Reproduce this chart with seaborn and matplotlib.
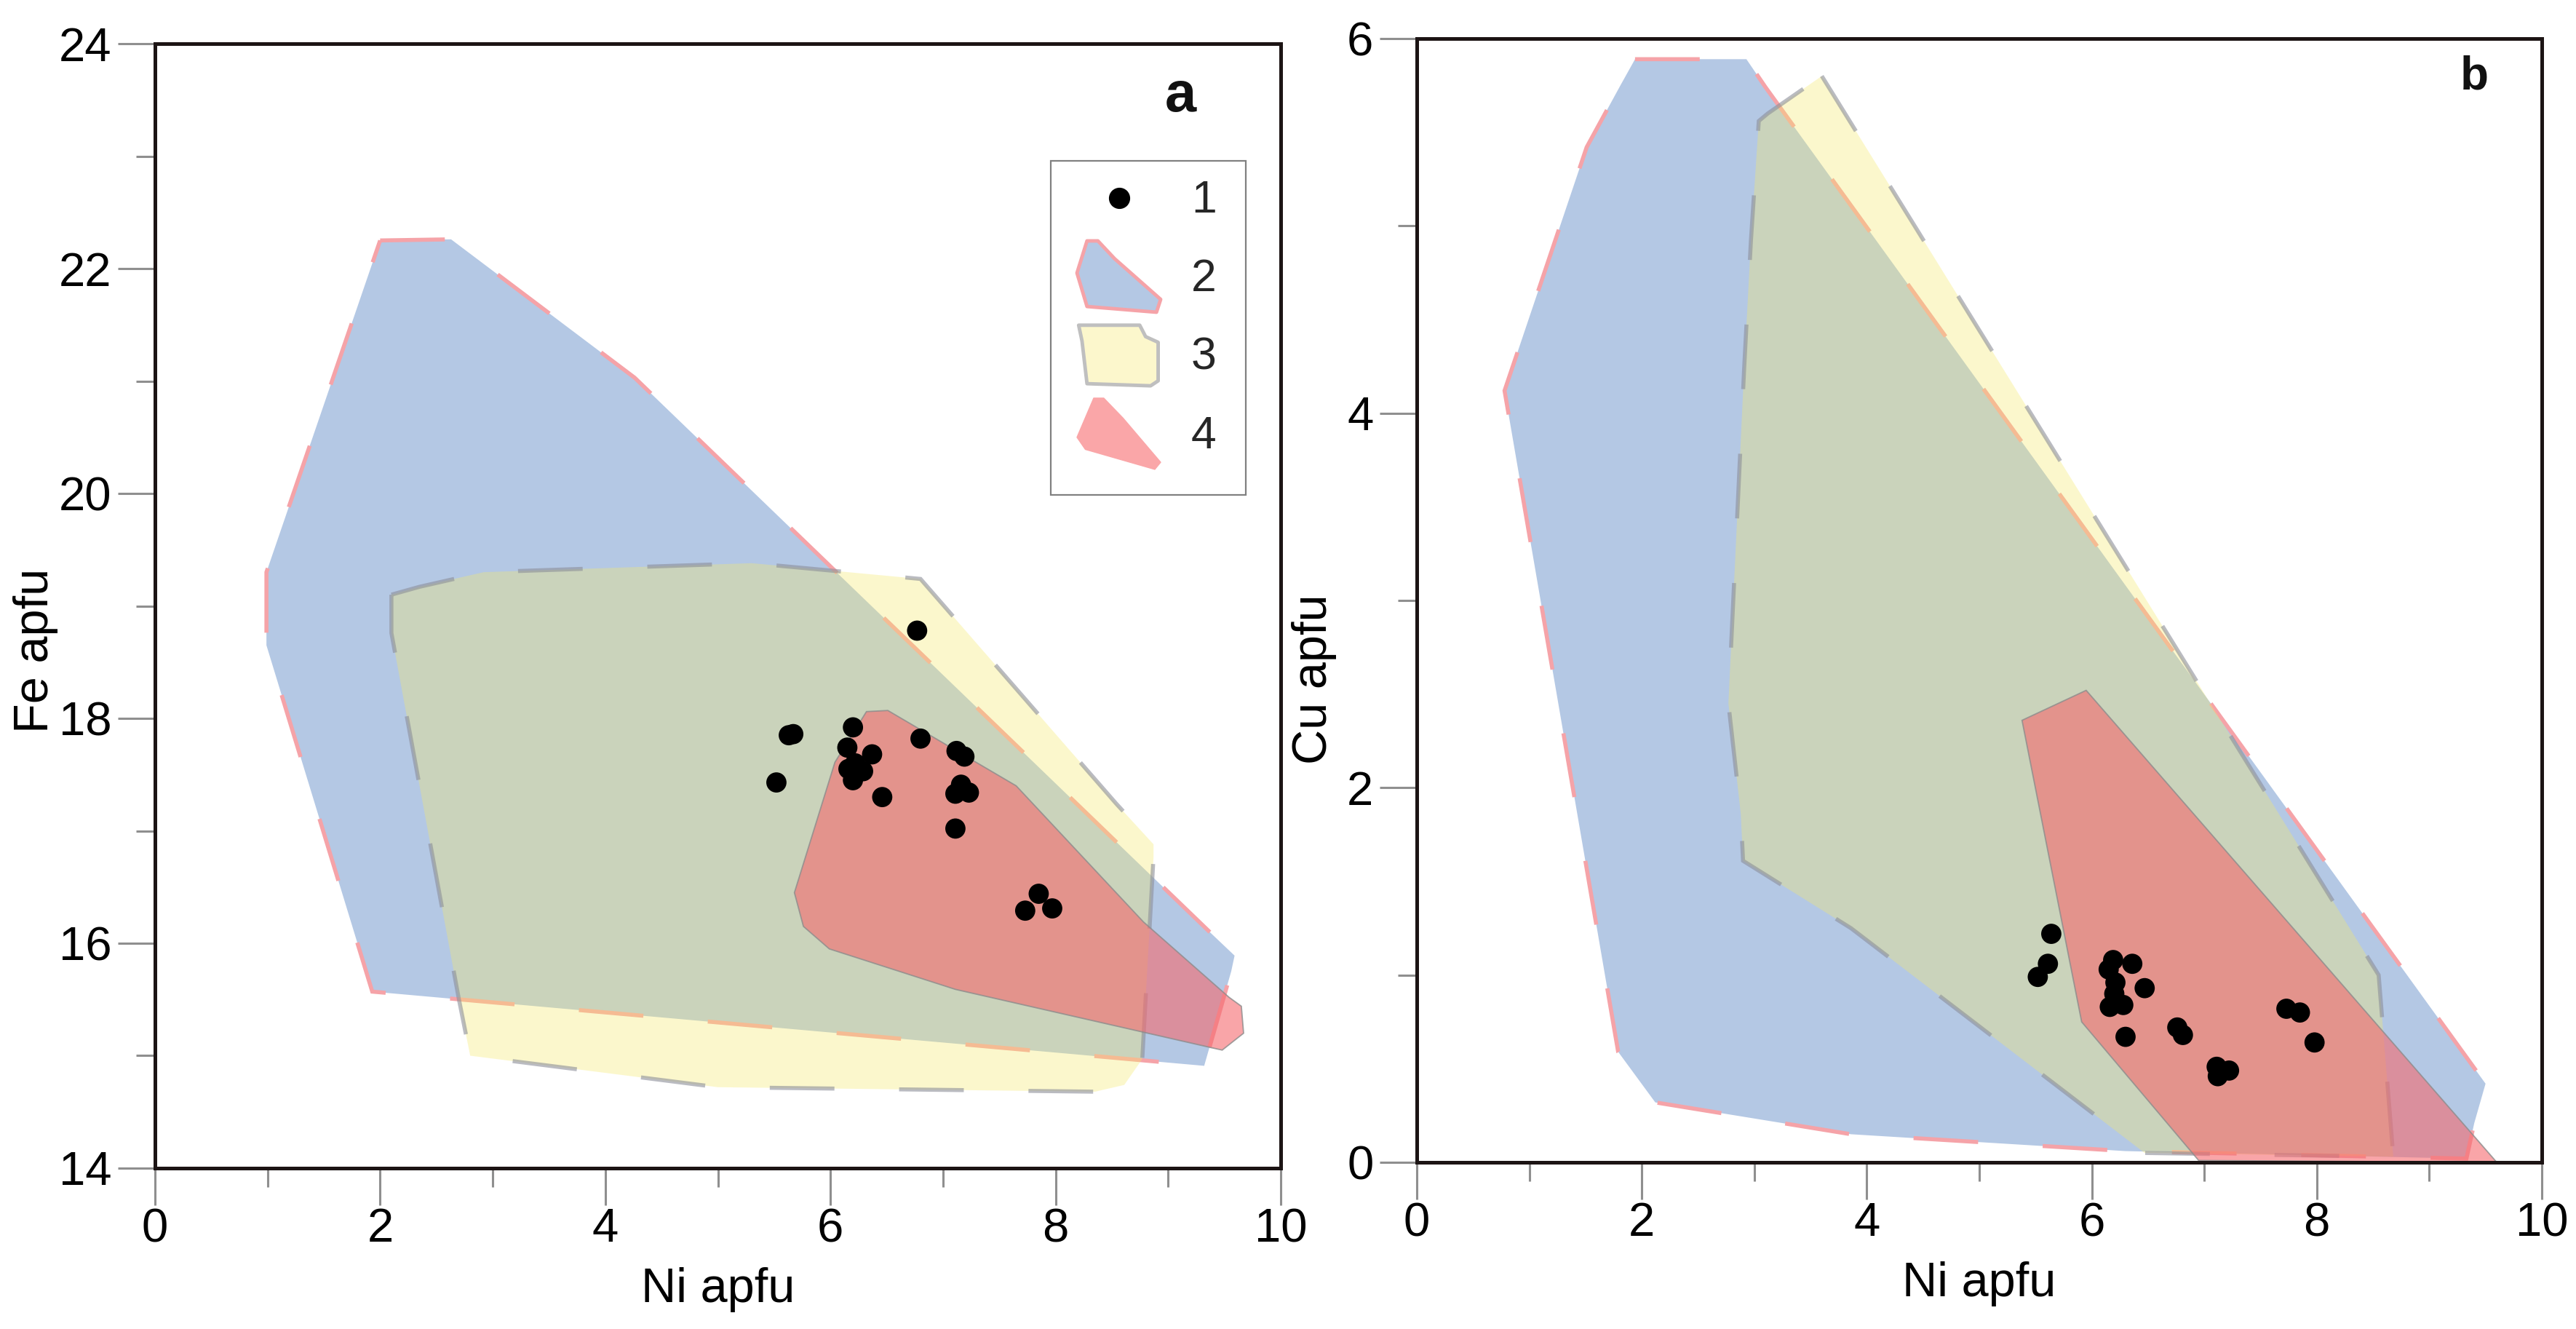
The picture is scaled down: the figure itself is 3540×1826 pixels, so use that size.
import numpy as np
import pandas as pd
import matplotlib
matplotlib.use("Agg")
import matplotlib.pyplot as plt
import seaborn as sns
from matplotlib.patches import Polygon, Rectangle
from matplotlib.lines import Line2D
from matplotlib.legend_handler import HandlerBase

# ---------------- data ----------------
# panel a: analysed points (1)
ni_a = [6.77, 5.63, 5.67, 5.52, 6.20, 6.15, 6.37, 6.16, 6.22, 6.29, 6.20, 6.46,
        6.80, 7.12, 7.19, 7.16, 7.11, 7.23, 7.11, 7.85, 7.73, 7.97]
fe_a = [18.78, 17.85, 17.86, 17.43, 17.92, 17.74, 17.68, 17.55, 17.60, 17.53, 17.45, 17.30,
        17.82, 17.71, 17.66, 17.41, 17.33, 17.34, 17.02, 16.44, 16.29, 16.31]

# panel a: fields 2, 3, 4
f2a_ni = [2.00, 2.63, 4.26, 9.39, 9.59, 9.56, 9.32, 1.93, 0.99, 0.99]
f2a_fe = [22.25, 22.26, 21.03, 16.08, 15.89, 15.75, 14.91, 15.57, 18.65, 19.30]
f3a_ni = [2.10, 2.35, 2.92, 5.30, 6.80, 8.54, 8.87, 8.87, 8.77, 8.61, 8.35, 5.00, 2.80, 2.70, 2.10]
f3a_fe = [19.10, 19.17, 19.30, 19.38, 19.24, 17.24, 16.88, 16.77, 14.97, 14.74, 14.68, 14.72, 15.00, 15.50, 18.76]
f4a_ni = [6.32, 6.51, 7.65, 8.78, 9.54, 9.65, 9.67, 9.48, 9.39, 7.11, 5.99, 5.76, 5.68, 6.04]
f4a_fe = [18.06, 18.07, 17.40, 16.19, 15.52, 15.44, 15.20, 15.05, 15.07, 15.59, 15.95, 16.15, 16.45, 17.61]

# panel b: analysed points (1)
ni_b = [5.64, 5.61, 5.52, 6.19, 6.15, 6.36, 6.21, 6.20, 6.47, 6.16, 6.28, 6.30,
        6.76, 6.81, 7.11, 7.22, 7.12, 7.73, 7.85, 7.98]
cu_b = [1.22, 1.06, 0.99, 1.08, 1.03, 1.06, 0.96, 0.90, 0.93, 0.83, 0.84, 0.67,
        0.72, 0.68, 0.51, 0.49, 0.46, 0.82, 0.80, 0.64]

# panel b: fields 2, 3, 4
f2b_ni = [1.94, 2.93, 3.10, 9.50, 9.40, 9.33, 6.30, 3.86, 2.12, 1.79, 0.78, 1.51, 1.81]
f2b_cu = [5.89, 5.89, 5.74, 0.42, 0.21, 0.02, 0.06, 0.15, 0.32, 0.59, 4.12, 5.42, 5.75]
f3b_ni = [3.60, 8.55, 8.68, 6.47, 3.86, 2.90, 2.88, 2.77, 2.91, 2.97, 3.04, 3.12]
f3b_cu = [5.80, 1.00, 0.03, 0.05, 1.25, 1.61, 1.86, 2.45, 4.24, 4.92, 5.56, 5.60]
f4b_ni = [5.38, 5.95, 9.60, 6.95, 5.91]
f4b_cu = [2.36, 2.52, 0.00, 0.01, 0.75]

legend_labels = ["1", "2", "3", "4"]
xticks = [0, 2, 4, 6, 8, 10]
yticks_a = [14, 16, 18, 20, 22, 24]
yticks_b = [0, 2, 4, 6]

# ---------------- style ----------------
sns.set_theme(style="white")
plt.rcParams["font.family"] = ["Liberation Sans", "DejaVu Sans"]

BLUE = (0.706, 0.784, 0.894)
PINK_EDGE = (0.96, 0.64, 0.66)
YELLOW = (0.965, 0.918, 0.424, 0.34)
GREY_EDGE = (0.55, 0.56, 0.60, 0.6)
RED = (0.96, 0.41, 0.43, 0.6)
RED_EDGE = (0.55, 0.55, 0.55, 0.8)
DASH = (0, (16, 16))

fig = plt.figure(figsize=(35.41, 18.26), dpi=100)
ax_a = fig.add_axes([0.06015, 0.12103, 0.43689, 0.84611])
ax_b = fig.add_axes([0.54984, 0.12541, 0.43660, 0.84556])


def draw_fields(ax, f2, f3, f4):
    ax.fill(f2[0], f2[1], facecolor=BLUE, edgecolor=PINK_EDGE, linewidth=4,
            linestyle=DASH, zorder=1)
    ax.fill(f3[0], f3[1], facecolor=YELLOW, edgecolor=GREY_EDGE, linewidth=4,
            linestyle=DASH, zorder=2)
    ax.fill(f4[0], f4[1], facecolor=RED, edgecolor=RED_EDGE, linewidth=1.3,
            linestyle="-", zorder=3)


draw_fields(ax_a, (f2a_ni, f2a_fe), (f3a_ni, f3a_fe), (f4a_ni, f4a_fe))
draw_fields(ax_b, (f2b_ni, f2b_cu), (f3b_ni, f3b_cu), (f4b_ni, f4b_cu))

df_a = pd.DataFrame({"Ni": ni_a, "Fe": fe_a})
df_b = pd.DataFrame({"Ni": ni_b, "Cu": cu_b})
sns.scatterplot(data=df_a, x="Ni", y="Fe", ax=ax_a, color="black", s=400,
                edgecolor="none", linewidth=0, zorder=5, legend=False)
sns.scatterplot(data=df_b, x="Ni", y="Cu", ax=ax_b, color="black", s=400,
                edgecolor="none", linewidth=0, zorder=5, legend=False)

TICK_COLOR = "#8f8f8f"
for ax, yt, ylim, ylab, ylx, yly in [(ax_a, yticks_a, (14, 24), "Fe apfu", -0.106, 0.46),
                                      (ax_b, yticks_b, (0, 6), "Cu apfu", -0.091, 0.43)]:
    ax.set_xlim(0, 10)
    ax.set_ylim(*ylim)
    ax.set_xticks(xticks)
    ax.set_yticks(yt)
    ax.set_xticks([1, 3, 5, 7, 9], minor=True)
    ax.set_yticks([v + 1 for v in yt[:-1]], minor=True)
    ax.set_xticklabels([str(v) for v in xticks])
    ax.set_yticklabels([str(v) for v in yt])
    ax.tick_params(which="major", direction="out", length=37, width=2.2,
                   color=TICK_COLOR, labelsize=47, labelcolor="black",
                   bottom=True, left=True, top=False, right=False)
    ax.tick_params(which="minor", direction="out", length=19, width=2.2,
                   color=TICK_COLOR, bottom=True, left=True, top=False, right=False)
    ax.tick_params(axis="x", which="major", pad=2)
    ax.tick_params(axis="y", which="major", pad=6)
    ax.set_xlabel("Ni apfu", fontsize=48, color="black")
    ax.set_ylabel(ylab, fontsize=48, color="black")
    ax.xaxis.set_label_coords(0.5, -0.108)
    ax.xaxis.label.set_va("center")
    ax.yaxis.set_label_coords(ylx, yly)
    ax.yaxis.label.set_va("center")
    for s in ax.spines.values():
        s.set_visible(True)
        s.set_linewidth(3.6)
        s.set_color("#1c1414")
        s.set_zorder(10)

ax_a.text(0.911, 0.953, "a", transform=ax_a.transAxes, fontsize=56,
          fontweight="bold", ha="center", va="center", color="#111111", zorder=11)
ax_b.text(0.940, 0.966, "b", transform=ax_b.transAxes, fontsize=46,
          fontweight="bold", ha="center", va="center", color="#111111", zorder=11)


# ---------------- legend with polygon glyphs ----------------
class PolyHandler(HandlerBase):
    def create_artists(self, legend, orig_handle, xdescent, ydescent, width,
                       height, fontsize, trans):
        xy = np.asarray(orig_handle.get_xy(), float)
        pts = np.column_stack([-xdescent + xy[:, 0] * width,
                               -ydescent + xy[:, 1] * height])
        p = Polygon(pts, closed=True, facecolor=orig_handle.get_facecolor(),
                    edgecolor=orig_handle.get_edgecolor(),
                    linewidth=orig_handle.get_linewidth(), joinstyle="round")
        p.set_transform(trans)
        return [p]


class DotHandler(HandlerBase):
    def create_artists(self, legend, orig_handle, xdescent, ydescent, width,
                       height, fontsize, trans):
        ln = Line2D([0.5 * width - xdescent], [0.5 * height - ydescent],
                    marker="o", linestyle="none",
                    color=orig_handle.get_color(),
                    markersize=orig_handle.get_markersize())
        ln.set_transform(trans)
        return [ln]


glyph2 = [(0.12, 1.0), (0.25, 1.0), (0.45, 0.75), (1.0, 0.18), (0.95, 0.0),
          (0.12, 0.08), (0.0, 0.55)]
glyph3 = [(0.02, 0.92), (0.75, 0.92), (0.82, 0.76), (0.97, 0.68), (0.97, 0.14),
          (0.88, 0.07), (0.12, 0.10), (0.06, 0.70)]
glyph4 = [(0.2, 1.0), (0.32, 1.0), (0.55, 0.72), (1.0, 0.1), (0.93, 0.0),
          (0.1, 0.28), (0.0, 0.45)]

h1 = Line2D([], [], marker="o", color="black", linestyle="none", markersize=20)
h2 = Polygon(glyph2, closed=True, facecolor=BLUE, edgecolor=PINK_EDGE, linewidth=3.5)
h3 = Polygon(glyph3, closed=True, facecolor=(0.99, 0.97, 0.80), edgecolor=(0.75, 0.75, 0.75),
             linewidth=3.5)
h4 = Polygon(glyph4, closed=True, facecolor=(0.98, 0.65, 0.66), edgecolor=(0.98, 0.65, 0.66),
             linewidth=1)

# legend frame
ax_a.add_patch(Rectangle((0.796, 0.599), 0.173, 0.297, transform=ax_a.transAxes,
                         facecolor="white", edgecolor="#808080", linewidth=1.6,
                         zorder=11))

leg = ax_a.legend([h1, h2, h3, h4], legend_labels,
                  handler_map={Polygon: PolyHandler(), Line2D: DotHandler()},
                  loc="upper left", bbox_to_anchor=(0.819, 0.8945), borderaxespad=0,
                  fontsize=45, frameon=False, borderpad=0, handlelength=1.84,
                  handleheight=2.035, handletextpad=0.67, labelspacing=0.16)
leg.set_zorder(12)

fig.savefig("out.png", dpi=100)
